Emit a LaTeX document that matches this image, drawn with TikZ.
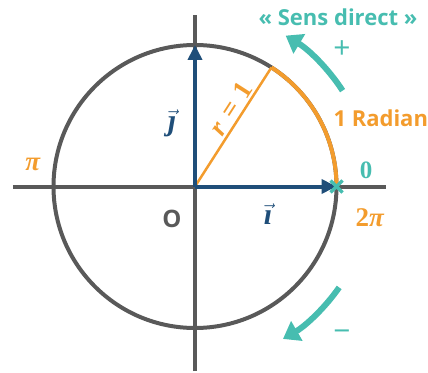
\documentclass[tikz,border=0pt]{standalone}
\usepackage{amsmath,amssymb}
\usepackage{fontspec}
\setsansfont{Open Sans}
\newfontfamily\serifb{Liberation Serif}
\usetikzlibrary{arrows.meta,positioning,calc}
\definecolor{gris}{HTML}{595959}
\definecolor{bleu}{HTML}{1F4E79}
\definecolor{orng}{HTML}{F39C2D}
\definecolor{turq}{HTML}{47BDB0}
\tikzset{
  axe/.style={gris, line width=4pt},
  cercle/.style={draw=gris, line width=4pt},
  radarc/.style={orng, line width=4pt},
  rayon/.style={orng, line width=2.5pt},
  vect/.style={bleu, line width=4pt, -{Triangle[length=15pt,width=14pt]}},
  sens/.style={turq, line width=6pt, -{Triangle[length=16pt,width=22pt]}},
  croix/.style={turq, line width=3.5pt},
  lab/.style={font=\sffamily\bfseries\fontsize{22}{24}\selectfont},
  mlab/.style={font=\serifb\bfseries\fontsize{27}{29}\selectfont},
  signe/.style={turq, font=\sffamily\fontsize{30}{30}\selectfont},
}
\newcommand{\itb}[1]{\textit{#1}}
\newcommand{\vecb}[1]{$\vec{\text{\serifb\bfseries\itshape #1}}$}

\begin{document}
\begin{tikzpicture}[x=1pt,y=1pt]
\useasboundingbox (-195,-185.5) rectangle (233,186.5);
\def\R{141.5}

% ===================== repere et cercle ========================
\coordinate (O) at (0,0);
\coordinate (I) at (\R,0);
\coordinate (J) at (0,\R);
\coordinate (A) at (57.3:\R);
\coordinate (xg) at (-182,0);
\coordinate (xd) at (191,0);
\coordinate (yb) at (0,-184.5);
\coordinate (yh) at (0,171.5);
\draw[axe] (xg) -- (xd);
\draw[axe] (yb) -- (yh);
\draw[cercle] (O) circle (\R);

% arc d'un radian et rayon
\draw[radarc] (I) arc (0:57.3:\R);
\draw[rayon] (O) -- (A)
  node[pos=0.6, sloped, above, inner sep=2pt, mlab, orng] {\itb{r}\,\,=\,\,1};

% vecteurs de base
\draw[vect] (O) -- (I);
\draw[vect] (O) -- (J);
\draw[croix] ($(I)+(-6,-6)$) -- ($(I)+(6,6)$);
\draw[croix] ($(I)+(-6,6)$) -- ($(I)+(6,-6)$);

% sens direct / indirect
\coordinate (p1) at (33:176);
\coordinate (m1) at (-35:176);
\draw[sens] (p1) arc (33:59:176);
\draw[sens] (m1) arc (-35:-60:176);

% ===================== textes ========================
\node[lab, turq] (sd) at (143,169) {« Sens direct »};
\node[signe] (plus) at (147,137) {+};
\node[signe] (moins) at (147,-149) {−};
\node[lab, orng, anchor=west] (rad) at (135,68.5) {1 Radian};
\node[mlab, turq, font=\serifb\bfseries\fontsize{25}{27}\selectfont] (zero) at (171,16) {0};
\node[mlab, orng] (deuxpi) at (175,-31) {2\itb{π}};
\node[mlab, orng] (pi) at (-162,22) {\itb{π}};
\node[lab, gris, font=\sffamily\bfseries\fontsize{24}{26}\selectfont] (orig) at (-23,-32) {O};
\node[mlab, bleu, font=\fontsize{30}{32}\selectfont] (vi) at (73,-28) {\vecb{ı}};
\node[mlab, bleu, font=\fontsize{30}{32}\selectfont] (vj) at (-23,63) {\vecb{ȷ}};
\end{tikzpicture}
\end{document}
